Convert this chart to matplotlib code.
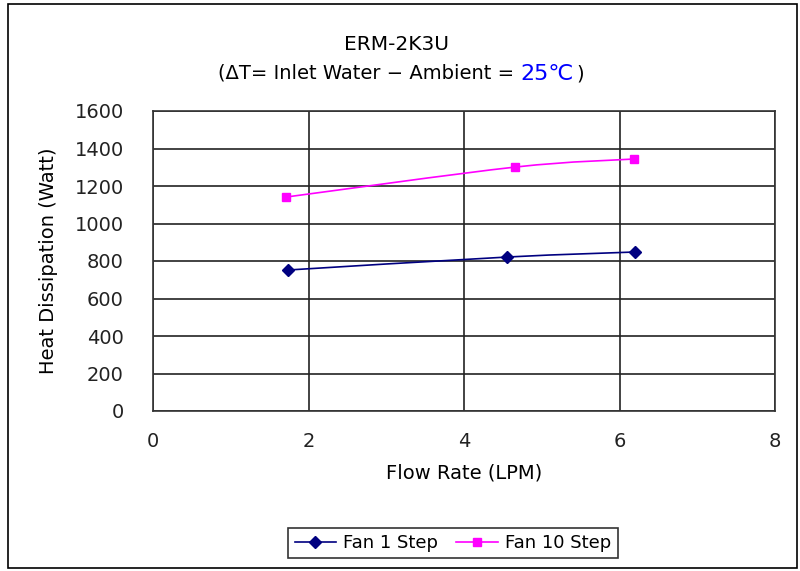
import matplotlib
matplotlib.use('Agg')
import matplotlib.pyplot as plt
from matplotlib.path import Path
from matplotlib.patches import PathPatch, Rectangle
import numpy as np

plt.rcParams['font.family'] = ['DejaVu Sans', 'Noto Sans CJK KR']

# data
flow_fan1 = [1.74, 4.55, 6.20]
heat_fan1 = [752, 821, 848]
flow_fan10 = [1.71, 4.66, 6.19]
heat_fan10 = [1141, 1301, 1344]
series_names = ['Fan 1 Step', 'Fan 10 Step']


def smooth_path(x, y):
    # Catmull-Rom through the points, drawn as cubic bezier segments
    p = np.column_stack([x, y]).astype(float)
    pts = np.vstack([p[0], p, p[-1]])
    verts = [tuple(p[0])]
    codes = [Path.MOVETO]
    for i in range(1, len(pts) - 2):
        p0, p1, p2, p3 = pts[i - 1], pts[i], pts[i + 1], pts[i + 2]
        c1 = p1 + (p2 - p0) / 6.0
        c2 = p2 - (p3 - p1) / 6.0
        verts += [tuple(c1), tuple(c2), tuple(p2)]
        codes += [Path.CURVE4] * 3
    return Path(verts, codes)


fig = plt.figure(figsize=(8, 5.71), dpi=100)
fig.patches.append(Rectangle((8 / 800, 3 / 571), 789 / 800, 564 / 571,
                             transform=fig.transFigure, fill=False,
                             edgecolor='black', lw=1.2))

ax = fig.add_axes([153 / 800, 1 - 411 / 571, 622 / 800, 300 / 571])

ax.add_patch(PathPatch(smooth_path(flow_fan1, heat_fan1), fill=False,
                       edgecolor='#000080', lw=1.2, zorder=3))
ax.add_patch(PathPatch(smooth_path(flow_fan10, heat_fan10), fill=False,
                       edgecolor='#ff00ff', lw=1.2, zorder=3))
ax.plot(flow_fan1, heat_fan1, ls='none', marker='D', ms=6,
        color='#000080', zorder=4)
ax.plot(flow_fan10, heat_fan10, ls='none', marker='s', ms=6,
        color='#ff00ff', zorder=4)

ax.set_xlim(0, 8)
ax.set_ylim(0, 1600)
ax.set_xticks([0, 2, 4, 6, 8])
ax.set_yticks(range(0, 1601, 200))
ax.grid(True, color='#222222', lw=1.2)
ax.set_axisbelow(True)
for s in ax.spines.values():
    s.set_color('#333333')
    s.set_linewidth(1.2)
ax.tick_params(labelsize=14, length=0, colors='#222222')
ax.tick_params(axis='y', pad=21)
ax.tick_params(axis='x', pad=15)
ax.set_xlabel('Flow Rate (LPM)', fontsize=14, labelpad=9)
ax.set_ylabel('Heat Dissipation (Watt)', fontsize=14, labelpad=12)

fig.text(396 / 800, 1 - 44 / 571, 'ERM-2K3U', ha='center', va='center',
         fontsize=14.5)

# second title line: black part, blue "25℃", closing bracket
inv = fig.transFigure.inverted()
r = fig.canvas.get_renderer()
t1 = fig.text(0, 1 - 73 / 571, '(\u0394T= Inlet Water \u2212 Ambient = ',
              ha='left', va='center', fontsize=14)
t2 = fig.text(0, 0, '25\u2103', fontsize=16, color='#0000ff',
              ha='left', va='baseline')
t3 = fig.text(0, 0, ')', fontsize=14, ha='left', va='baseline')
fig.canvas.draw()
w1 = t1.get_window_extent(r).width
w2 = t2.get_window_extent(r).width
w3 = t3.get_window_extent(r).width
total = w1 + w2 + w3 + 3
left = 401 - total / 2
t1.set_x(left / 800)
base = t1.get_window_extent(r).y0 + 3
t2.set_position(inv.transform((left + w1, base)))
t3.set_position(inv.transform((left + w1 + w2 + 3, base)))

# legend box
h1, = ax.plot([], [], color='#000080', marker='D', ms=6, lw=1.2)
h2, = ax.plot([], [], color='#ff00ff', marker='s', ms=6, lw=1.2)
leg = fig.legend([h1, h2], series_names, loc='center',
                 bbox_to_anchor=(453 / 800, 1 - 543 / 571), ncol=2,
                 fontsize=13, frameon=True, fancybox=False,
                 edgecolor='black', handlelength=2.3, columnspacing=1.0,
                 borderpad=0.35, handletextpad=0.4, borderaxespad=0)
leg.get_frame().set_linewidth(1.2)

fig.savefig('out.png', dpi=100)
